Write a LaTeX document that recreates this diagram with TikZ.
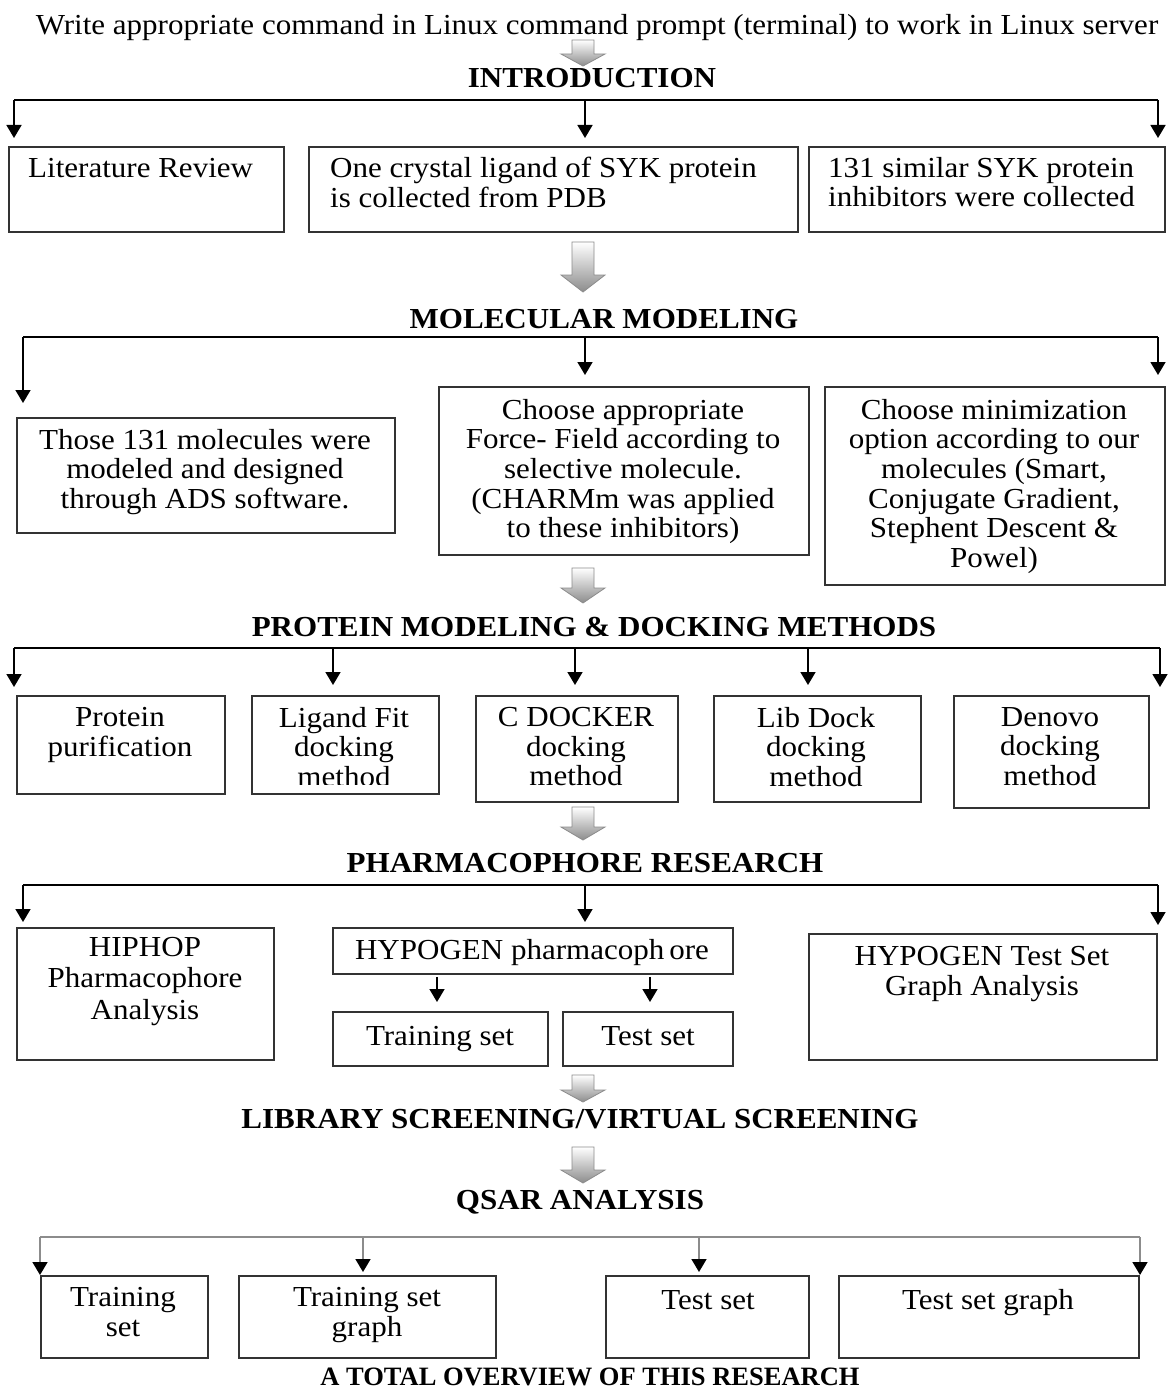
\documentclass[tikz,border=0pt]{standalone}
\usepackage{fontspec}
\setmainfont{Liberation Serif}[FakeStretch=1.07]
\newfontfamily\footfont{Liberation Serif}
\usetikzlibrary{arrows.meta}
\newcommand{\hollowarr}[4]{%
  \path[draw=black!45, line width=0.8pt, top color=white, bottom color=black!45]
    ({#1-11},#2) -- ({#1+11},#2) -- ({#1+11},#3) -- ({#1+22},#3) -- (#1,#4)
    -- ({#1-22},#3) -- ({#1-11},#3) -- cycle;}
\begin{document}
\begin{tikzpicture}[x=1pt,y=-1pt,
  box/.style={draw=black!80, line width=1.8pt, inner sep=0pt, anchor=north west},
  txt/.style={inner sep=0pt, align=center, anchor=north,
    font=\fontsize{29}{29.6}\selectfont, execute at begin node=\strut},
  txtl/.style={txt, align=left, anchor=north west},
  one/.style={inner sep=0pt, anchor=base, font=\fontsize{29}{29.6}\selectfont},
  head/.style={inner sep=0pt, anchor=base, font=\fontsize{29}{30}\selectfont\bfseries},
  conn/.style={line width=1.6pt, black},
  arr/.style={conn, -{Triangle[width=15pt,length=13pt]}},
  gconn/.style={line width=1.6pt, black!45},
  garr/.style={gconn, -{Triangle[width=15pt,length=13pt,black]}}
]
\useasboundingbox[fill=white] (0,0) rectangle (1167,1388);

% title and hollow arrows
\node[one] (title) at (597,35) {Write appropriate command in Linux command prompt (terminal) to work in Linux server};
\hollowarr{583}{40}{54}{66}
\node[head] (h1) at (592,88) {INTRODUCTION};

% row 1
\node[box, minimum width=275pt, minimum height=85pt] (b1) at (8,146) {};
\node[box, minimum width=489pt, minimum height=85pt] (b2) at (308,146) {};
\node[box, minimum width=356pt, minimum height=85pt] (b3) at (808,146) {};
\node[txtl] (t1) at (28,157) {Literature Review};
\node[txtl] (t2) at (330,157) {One crystal ligand of SYK protein\\is collected from PDB};
\node[txtl] (t3) at (828,157) {131 similar SYK protein\\inhibitors were collected};
\coordinate (c1l) at (14,100);
\coordinate (c1m) at (585,100);
\coordinate (c1r) at (1158,100);
\draw[conn] (c1l) -- (c1r);
\draw[arr, shorten >=8pt] (c1l) -- (c1l |- b1.north);
\draw[arr, shorten >=8pt] (c1m) -- (c1m |- b2.north);
\draw[arr, shorten >=8pt] (c1r) -- (c1r |- b3.north);

\hollowarr{583}{242}{275}{292}
\node[head] (h2) at (604,328) {MOLECULAR MODELING};

% row 2
\node[box, minimum width=378pt, minimum height=115pt] (b4) at (16,417) {};
\node[box, minimum width=370pt, minimum height=168pt] (b5) at (438,386) {};
\node[box, minimum width=340pt, minimum height=198pt] (b6) at (824,386) {};
\node[txt] (t4) at (205,429) {Those 131 molecules were\\modeled and designed\\through ADS software.};
\node[txt] (t5) at (623,399) {Choose appropriate\\Force- Field according to\\selective molecule.\\(CHARMm was applied\\to these inhibitors)};
\node[txt] (t6) at (994,399) {Choose minimization\\option according to our\\molecules (Smart,\\Conjugate Gradient,\\Stephent Descent \&\\Powel)};
\coordinate (c2l) at (23,337);
\coordinate (c2m) at (585,337);
\coordinate (c2r) at (1158,337);
\draw[conn] (c2l) -- (c2r);
\draw[arr, shorten >=14pt] (c2l) -- (c2l |- b4.north);
\draw[arr, shorten >=11pt] (c2m) -- (c2m |- b5.north);
\draw[arr, shorten >=11pt] (c2r) -- (c2r |- b6.north);

\hollowarr{583}{568}{588}{603}
\node[head] (h3) at (594,636) {PROTEIN MODELING \& DOCKING METHODS};

% row 3
\node[box, minimum width=208pt, minimum height=98pt] (b7) at (16,695) {};
\node[box, minimum width=187pt, minimum height=98pt] (b8) at (251,695) {};
\node[box, minimum width=202pt, minimum height=106pt] (b9) at (475,695) {};
\node[box, minimum width=207pt, minimum height=106pt] (b10) at (713,695) {};
\node[box, minimum width=195pt, minimum height=112pt] (b11) at (953,695) {};
\node[txt] (t7) at (120,707) {Protein\\purification};
\begin{scope}
\clip (252,696) rectangle (437,784);
\node[txt] (t8) at (344,707) {Ligand Fit\\docking\\method};
\end{scope}
\node[txt] (t9) at (576,707) {C DOCKER\\docking\\method};
\node[txt] (t10) at (816,707) {Lib Dock\\docking\\method};
\node[txt] (t11) at (1050,707) {Denovo\\docking\\method};
\coordinate (c3a) at (14,648);
\coordinate (c3b) at (333,648);
\coordinate (c3c) at (575,648);
\coordinate (c3d) at (808,648);
\coordinate (c3e) at (1160,648);
\draw[conn] (c3a) -- (c3e);
\draw[arr, shorten >=8pt] (c3a) -- (c3a |- b7.north);
\draw[arr, shorten >=10pt] (c3b) -- (c3b |- b8.north);
\draw[arr, shorten >=10pt] (c3c) -- (c3c |- b9.north);
\draw[arr, shorten >=10pt] (c3d) -- (c3d |- b10.north);
\draw[arr, shorten >=8pt] (c3e) -- (c3e |- b11.north);

\hollowarr{583}{807}{827}{840}
\node[head] (h4) at (585,872) {PHARMACOPHORE RESEARCH};

% row 4
\node[box, minimum width=257pt, minimum height=132pt] (b12) at (16,927) {};
\node[box, minimum width=400pt, minimum height=46pt] (b13) at (332,927) {};
\node[box, minimum width=215pt, minimum height=54pt] (b14) at (332,1011) {};
\node[box, minimum width=170pt, minimum height=54pt] (b15) at (562,1011) {};
\node[box, minimum width=348pt, minimum height=126pt] (b16) at (808,933) {};
\node[txt, font=\fontsize{29}{31.5}\selectfont] (t12) at (145,937) {HIPHOP\\Pharmacophore\\Analysis};
\node[one] (t13) at (532,959) {HYPOGEN pharmacoph\,ore};
\node[one] (t14) at (440,1045) {Training set};
\node[one] (t15) at (648,1045) {Test set};
\node[txt] (t16) at (982,946) {HYPOGEN Test Set\\Graph Analysis};
\coordinate (c4l) at (23,885);
\coordinate (c4m) at (585,885);
\coordinate (c4r) at (1158,885);
\draw[conn] (c4l) -- (c4r);
\draw[arr, shorten >=5pt] (c4l) -- (c4l |- b12.north);
\draw[arr, shorten >=5pt] (c4m) -- (c4m |- b13.north);
\draw[arr, shorten >=8pt] (c4r) -- (c4r |- b16.north);
\coordinate (c4p) at (437,0);
\coordinate (c4q) at (650,0);
\draw[arr, shorten <=2pt, shorten >=9pt] (c4p |- b13.south) -- (c4p |- b14.north);
\draw[arr, shorten <=2pt, shorten >=9pt] (c4q |- b13.south) -- (c4q |- b15.north);

\hollowarr{583}{1075}{1090}{1102}
\node[head] (h5) at (580,1128) {LIBRARY SCREENING/VIRTUAL SCREENING};
\hollowarr{583}{1147}{1170}{1183}
\node[head] (h6) at (580,1209) {QSAR ANALYSIS};

% row 5
\node[box, minimum width=167pt, minimum height=82pt] (b17) at (40,1275) {};
\node[box, minimum width=257pt, minimum height=82pt] (b18) at (238,1275) {};
\node[box, minimum width=203pt, minimum height=82pt] (b19) at (605,1275) {};
\node[box, minimum width=300pt, minimum height=82pt] (b20) at (838,1275) {};
\node[txt] (t17) at (123,1287) {Training\\set};
\node[txt] (t18) at (367,1287) {Training set\\graph};
\node[one] (t19) at (708,1309) {Test set};
\node[one] (t20) at (988,1309) {Test set graph};
\coordinate (c5a) at (40,1237);
\coordinate (c5b) at (363,1237);
\coordinate (c5c) at (699,1237);
\coordinate (c5d) at (1140,1237);
\draw[gconn] (c5a) -- (c5d);
\draw[garr] (c5a) -- (c5a |- b17.north);
\draw[garr, shorten >=3pt] (c5b) -- (c5b |- b18.north);
\draw[garr, shorten >=3pt] (c5c) -- (c5c |- b19.north);
\draw[garr] (c5d) -- (c5d |- b20.north);

\node[inner sep=0pt, anchor=base, font=\footfont\fontsize{26.5}{27}\selectfont\bfseries] (foot) at (590,1385) {A TOTAL OVERVIEW OF THIS RESEARCH};
\end{tikzpicture}
\end{document}
